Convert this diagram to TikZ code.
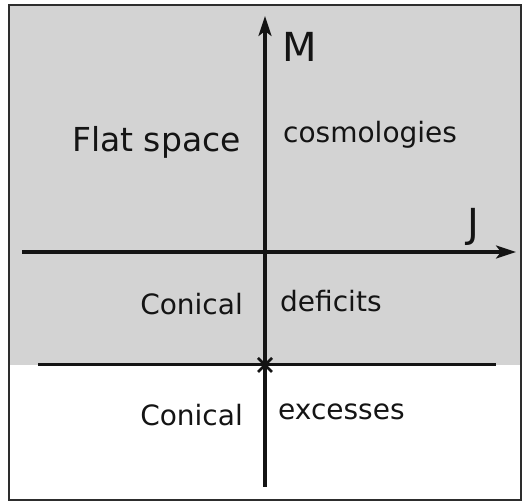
\documentclass[tikz,border=0pt]{standalone}
\usepackage{fontspec}
\setmainfont{DejaVu Sans}
\usetikzlibrary{arrows.meta}
\definecolor{bggray}{RGB}{211,211,211}
\definecolor{ink}{RGB}{20,20,20}
\definecolor{framec}{RGB}{45,45,45}
\tikzset{
  axis/.style={draw=ink, line width=3.2pt, -{Stealth[length=20pt,width=13pt,inset=5pt]}},
  plainline/.style={draw=ink, line width=3pt},
  lbl/.style={text=ink, font=\fontsize{28}{32}\selectfont, inner sep=0pt},
  lblL/.style={lbl, anchor=base east},
  lblR/.style={lbl, anchor=base west},
  axlbl/.style={text=ink, font=\fontsize{40}{44}\selectfont, inner sep=0pt, anchor=base}
}
\begin{document}
\begin{tikzpicture}[x=1pt,y=-1pt]
\useasboundingbox (0,0) rectangle (523,502);
\fill[bggray] (9,5) rectangle (521,365);
\draw[framec, line width=2.4pt] (9,5) rectangle (521,500);
% coordinates
\coordinate (vbot) at (265,487);
\coordinate (vtop) at (265,16);
\coordinate (hleft) at (22,252);
\coordinate (hright) at (516,252);
\coordinate (bleft) at (38,365);
\coordinate (bright) at (496,365);
\coordinate (cross) at (265,365);
% lines
\draw[plainline] (bleft) -- (bright);
\draw[axis] (hleft) -- (hright);
\draw[axis] (vbot) -- (vtop);
\draw[ink, line width=2.6pt] ([shift={(-7,-7)}]cross) -- ([shift={(7,7)}]cross);
\draw[ink, line width=2.6pt] ([shift={(-7,7)}]cross) -- ([shift={(7,-7)}]cross);
% labels
\node[axlbl] (M) at (300,62) {M};
\node[axlbl] (J) at (473,238) {J};
\node[lblL, font=\fontsize{33}{36}\selectfont] (flat) at (241,152) {Flat space};
\node[lblR] (cosmo) at (283,143) {cosmologies};
\node[lblL] (con1) at (243,315) {Conical};
\node[lblR] (def) at (280,312) {deficits};
\node[lblL] (con2) at (243,426) {Conical};
\node[lblR] (exc) at (278,420) {excesses};
\end{tikzpicture}
\end{document}
